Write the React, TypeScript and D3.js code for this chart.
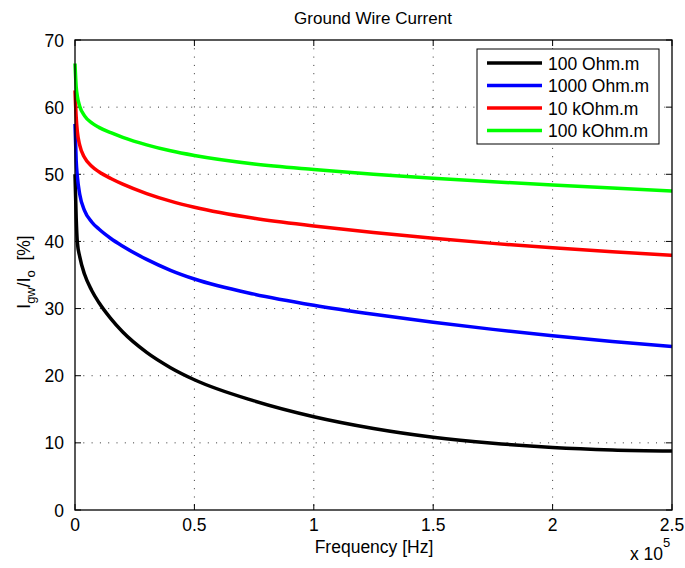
import React from "react";
import * as d3 from "d3";

const freq = [0, 0.005, 0.01, 0.02, 0.04, 0.07, 0.1, 0.15, 0.2, 0.3, 0.4, 0.5, 0.75, 1.0, 1.25, 1.5, 1.75, 2.0, 2.25, 2.5].map((v) => v * 1e5);
const s100 = [50, 43.5, 39.8, 37.7, 35.1, 32.7, 30.9, 28.5, 26.5, 23.47, 21.2, 19.4, 16.25, 13.9, 12.15, 10.85, 9.95, 9.32, 8.95, 8.78];
const s1000 = [57.5, 52.0, 49.6, 47.0, 44.6, 42.9, 41.84, 40.44, 39.29, 37.32, 35.7, 34.4, 32.15, 30.5, 29.15, 27.96, 26.9, 25.95, 25.1, 24.35];
const s10k = [62.5, 58.5, 56.3, 54.3, 52.5, 51.18, 50.37, 49.37, 48.53, 47.13, 46.01, 45.1, 43.45, 42.3, 41.32, 40.46, 39.71, 39.05, 38.46, 37.94];
const s100k = [66.5, 63.0, 61.6, 60.1, 58.7, 57.65, 56.99, 56.19, 55.51, 54.39, 53.5, 52.8, 51.54, 50.72, 50.02, 49.42, 48.89, 48.4, 47.94, 47.5];
const seriesNames = ["100 Ohm.m", "1000 Ohm.m", "10 kOhm.m", "100 kOhm.m"];
const seriesColors = ["#000000", "#0000ff", "#ff0000", "#00ff00"];
const seriesValues = [s100, s1000, s10k, s100k];
const xTicks = [0, 0.5, 1, 1.5, 2, 2.5];
const yTicks = [0, 10, 20, 30, 40, 50, 60, 70];

const W = 685, H = 568;
const L = 75, R = 672, T = 40, B = 510;
const font = "'Liberation Sans', Arial, Helvetica, sans-serif";
const fs = 17.5;

export default function App() {
  const x = d3.scaleLinear().domain([0, 2.5e5]).range([L, R]);
  const y = d3.scaleLinear().domain([0, 70]).range([B, T]);
  const line = d3
    .line<number>()
    .x((_, i) => x(freq[i]))
    .y((d) => y(d))
    .curve(d3.curveMonotoneX);
  const tickLen = 6;
  return (
    <svg width={W} height={H} style={{ position: "absolute", left: 0, top: 0, background: "#fff" }} fontFamily={font}>
      <rect x={0} y={0} width={W} height={H} fill="#fff" />
      {/* grid */}
      {xTicks.slice(1, -1).map((t) => (
        <line key={"gx" + t} x1={x(t * 1e5)} x2={x(t * 1e5)} y1={T} y2={B} stroke="#333" strokeWidth={1} strokeDasharray="1,7.3" />
      ))}
      {yTicks.slice(1, -1).map((t) => (
        <line key={"gy" + t} x1={L} x2={R} y1={y(t)} y2={y(t)} stroke="#333" strokeWidth={1} strokeDasharray="1,7.3" />
      ))}
      {/* ticks */}
      {xTicks.map((t) => (
        <g key={"tx" + t}>
          <line x1={x(t * 1e5)} x2={x(t * 1e5)} y1={B} y2={B - tickLen} stroke="#000" />
          <line x1={x(t * 1e5)} x2={x(t * 1e5)} y1={T} y2={T + tickLen} stroke="#000" />
          <text x={x(t * 1e5)} y={B + 21} fontSize={fs} textAnchor="middle">{t}</text>
        </g>
      ))}
      {yTicks.map((t) => (
        <g key={"ty" + t}>
          <line x1={L} x2={L + tickLen} y1={y(t)} y2={y(t)} stroke="#000" />
          <line x1={R} x2={R - tickLen} y1={y(t)} y2={y(t)} stroke="#000" />
          <text x={L - 11} y={y(t) + 6.5} fontSize={fs} textAnchor="end">{t}</text>
        </g>
      ))}
      {/* series */}
      {seriesValues.map((vals, i) => (
        <path key={"s" + i} d={line(vals) || ""} fill="none" stroke={seriesColors[i]} strokeWidth={3.5} strokeLinejoin="round" />
      ))}
      {/* frame */}
      <rect x={L} y={T} width={R - L} height={B - T} fill="none" stroke="#000" strokeWidth={1.3} />
      {/* legend */}
      <rect x={477} y={49} width={182} height={95} fill="#fff" stroke="#000" strokeWidth={1} />
      {seriesNames.map((n, i) => (
        <g key={"lg" + i}>
          <line x1={487} x2={542} y1={63 + i * 22.5} y2={63 + i * 22.5} stroke={seriesColors[i]} strokeWidth={3.5} />
          <text x={548} y={63 + i * 22.5 + 6.5} fontSize={fs}>{n}</text>
        </g>
      ))}
      {/* title */}
      <text x={373} y={24} fontSize={17} textAnchor="middle">Ground Wire Current</text>
      {/* x label */}
      <text x={374} y={553} fontSize={fs} textAnchor="middle">Frequency [Hz]</text>
      <text x={630} y={560} fontSize={fs}>x 10</text>
      <text x={663} y={547} fontSize={13}>5</text>
      {/* y label */}
      <text transform={`translate(30, ${272}) rotate(-90)`} fontSize={fs} textAnchor="middle">
        <tspan>I</tspan>
        <tspan fontSize={13} dy={5}>gw</tspan>
        <tspan dy={-5}>/I</tspan>
        <tspan fontSize={13} dy={5}>o</tspan>
        <tspan dy={-5} xmlSpace="preserve">{"\u00a0 [%]"}</tspan>
      </text>
    </svg>
  );
}
